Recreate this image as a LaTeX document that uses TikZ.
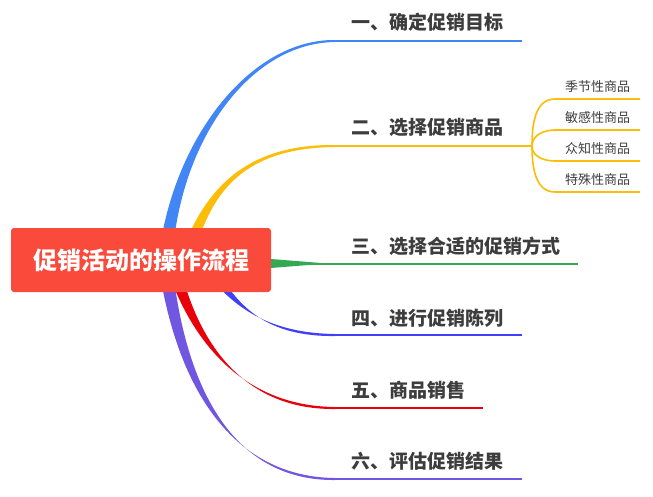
\documentclass[tikz,border=0pt]{standalone}
\usepackage{fontspec}
\newfontfamily\cjk{Noto Sans CJK SC}
\definecolor{rootred}{HTML}{FA4A3C}
\definecolor{bluea}{HTML}{4285F4}
\definecolor{yellowb}{HTML}{FBBD08}
\definecolor{greenc}{HTML}{34A853}
\definecolor{blued}{HTML}{4040FA}
\definecolor{rede}{HTML}{E8000B}
\definecolor{purplef}{HTML}{7056E0}
\definecolor{textgray}{HTML}{3D3D3D}
\tikzset{
  root/.style={fill=rootred, rounded corners=3pt, text=white, minimum width=260pt, minimum height=64pt,
    font=\cjk\bfseries\fontsize{24}{24}\selectfont},
  topic/.style={anchor=west, inner sep=0pt, text=textgray, font=\cjk\bfseries\fontsize{19}{19}\selectfont},
  subtopic/.style={anchor=west, inner sep=0pt, text=textgray, font=\cjk\fontsize{13}{13}\selectfont},
}

\begin{document}
\begin{tikzpicture}[x=1pt,y=-1pt]
            \useasboundingbox (0,0) rectangle (653,496);
            % curved branches, thick at the root and thin at the end
            \foreach \i/\col/\sx/\ax/\ay/\bx/\ey/\lx in {1/bluea/165/175/140/250/41/522, 2/yellowb/185/205/195/240/146/532,
                4/blued/205/230/300/260/335/522, 5/rede/172/190/330/235/408/483, 6/purplef/165/182/400/240/479/522}
            {
            \coordinate (s\i) at (\sx,262);
            \coordinate (e\i) at (335,\ey);
            \coordinate (l\i) at (\lx,\ey);
            \fill[\col] ([xshift=-7pt]s\i) .. controls ({\ax-4},\ay) and (\bx,{\ey-2}) .. ([yshift=1pt]e\i)
                -- ([yshift=-1pt]e\i) .. controls (\bx,{\ey+2}) and ({\ax+4},\ay) .. ([xshift=7pt]s\i) -- cycle;
            \draw[\col, line width=2pt] (e\i) -- (l\i);
            }
            % straight branch
            \coordinate (s3) at (165,263.5);
            \coordinate (e3) at (327,263.5);
            \coordinate (l3) at (578,263.5);
            \fill[greenc] ([yshift=13pt]s3) -- (e3) -- ([yshift=-13pt]s3) -- cycle;
            \draw[greenc, line width=2pt] ([xshift=100pt]s3) -- (l3);
            % sub branches
            \foreach \j/\o/\y/\txt in {1/90/99/季节性商品, 2/90/130/敏感性商品, 3/-90/161/众知性商品, 4/-90/192/特殊性商品}
            {
            \coordinate (k\j) at (555,\y);
            \coordinate (m\j) at (640,\y);
            \draw[yellowb, line width=1.6pt] (l2) to[out=\o, in=180] (k\j) -- (m\j);
            \node[subtopic] (sub\j) at (565,{\y-12}) {\txt};
            }
            \node[root] (main) at (141,260) {促销活动的操作流程};
            \foreach \i/\y/\txt in {1/22/一、确定促销目标, 2/127/二、选择促销商品, 3/246/三、选择合适的促销方式,
                4/318/四、进行促销陈列, 5/390/五、商品销售, 6/461/六、评估促销结果}
            \node[topic] (t\i) at (351,\y) {\txt};
        \end{tikzpicture}
\end{document}
